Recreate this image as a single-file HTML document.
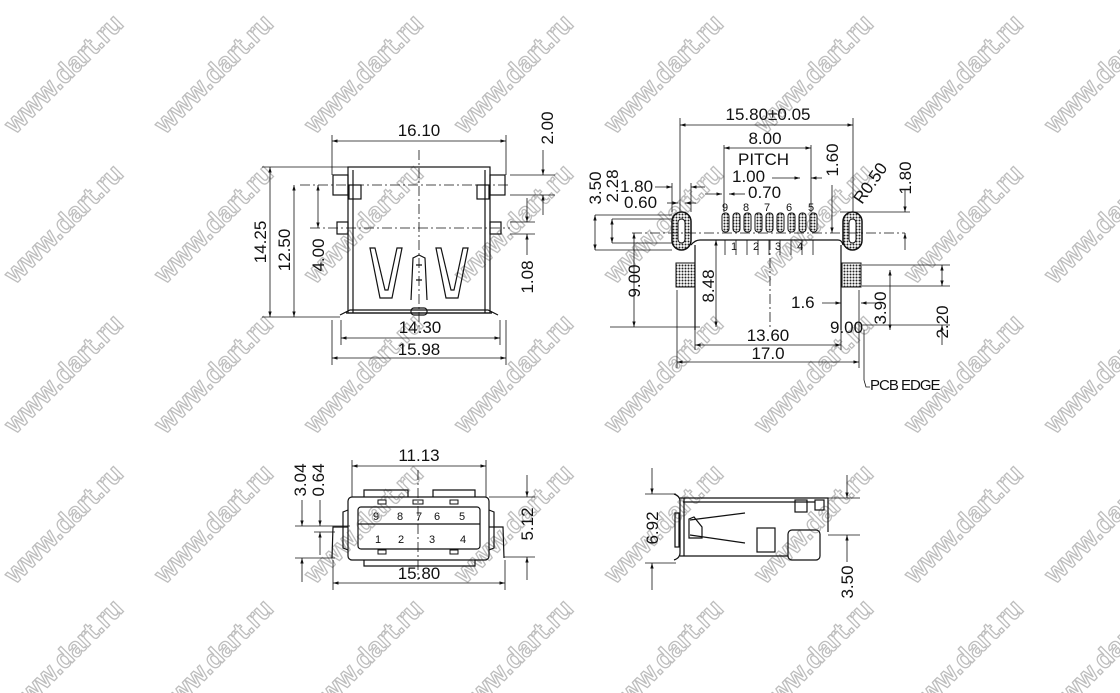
<!DOCTYPE html>
<html><head><meta charset="utf-8"><style>
html,body{margin:0;padding:0;background:#fff}
svg{display:block}
.wm{font:bold 27px "Liberation Sans",sans-serif;fill:#fff;stroke:#bdbdbd;stroke-width:1.3}
.t{font:17px "Liberation Sans",sans-serif;fill:#111}
.s{font:11px "Liberation Sans",sans-serif;fill:#111}
.l{stroke:#111;stroke-width:1.2;fill:none}
.th{stroke:#111;stroke-width:0.8;fill:none}
.d{stroke:#111;stroke-width:0.8;stroke-dasharray:10 3 2 3;fill:none}
</style></head><body>
<svg width="1120" height="693" viewBox="0 0 1120 693" xmlns="http://www.w3.org/2000/svg">
<defs>
<marker id="a" viewBox="0 0 10 10" refX="10" refY="5" markerWidth="7" markerHeight="7" orient="auto-start-reverse"><path d="M0,2 L10,5 L0,8z" fill="#111"/></marker>
<pattern id="h" width="3" height="3" patternUnits="userSpaceOnUse"><rect width="3" height="3" fill="#fff"/><circle cx="1.5" cy="1.5" r="1" fill="#222"/></pattern>
</defs>
<g>
<text class="wm" transform="translate(70,80) rotate(-45)" text-anchor="middle">www.dart.ru</text>
<text class="wm" transform="translate(220,80) rotate(-45)" text-anchor="middle">www.dart.ru</text>
<text class="wm" transform="translate(370,80) rotate(-45)" text-anchor="middle">www.dart.ru</text>
<text class="wm" transform="translate(520,80) rotate(-45)" text-anchor="middle">www.dart.ru</text>
<text class="wm" transform="translate(670,80) rotate(-45)" text-anchor="middle">www.dart.ru</text>
<text class="wm" transform="translate(820,80) rotate(-45)" text-anchor="middle">www.dart.ru</text>
<text class="wm" transform="translate(970,80) rotate(-45)" text-anchor="middle">www.dart.ru</text>
<text class="wm" transform="translate(1110,80) rotate(-45)" text-anchor="middle">www.dart.ru</text>
<text class="wm" transform="translate(70,230) rotate(-45)" text-anchor="middle">www.dart.ru</text>
<text class="wm" transform="translate(220,230) rotate(-45)" text-anchor="middle">www.dart.ru</text>
<text class="wm" transform="translate(370,230) rotate(-45)" text-anchor="middle">www.dart.ru</text>
<text class="wm" transform="translate(520,230) rotate(-45)" text-anchor="middle">www.dart.ru</text>
<text class="wm" transform="translate(670,230) rotate(-45)" text-anchor="middle">www.dart.ru</text>
<text class="wm" transform="translate(820,230) rotate(-45)" text-anchor="middle">www.dart.ru</text>
<text class="wm" transform="translate(970,230) rotate(-45)" text-anchor="middle">www.dart.ru</text>
<text class="wm" transform="translate(1110,230) rotate(-45)" text-anchor="middle">www.dart.ru</text>
<text class="wm" transform="translate(70,380) rotate(-45)" text-anchor="middle">www.dart.ru</text>
<text class="wm" transform="translate(220,380) rotate(-45)" text-anchor="middle">www.dart.ru</text>
<text class="wm" transform="translate(370,380) rotate(-45)" text-anchor="middle">www.dart.ru</text>
<text class="wm" transform="translate(520,380) rotate(-45)" text-anchor="middle">www.dart.ru</text>
<text class="wm" transform="translate(670,380) rotate(-45)" text-anchor="middle">www.dart.ru</text>
<text class="wm" transform="translate(820,380) rotate(-45)" text-anchor="middle">www.dart.ru</text>
<text class="wm" transform="translate(970,380) rotate(-45)" text-anchor="middle">www.dart.ru</text>
<text class="wm" transform="translate(1110,380) rotate(-45)" text-anchor="middle">www.dart.ru</text>
<text class="wm" transform="translate(70,530) rotate(-45)" text-anchor="middle">www.dart.ru</text>
<text class="wm" transform="translate(220,530) rotate(-45)" text-anchor="middle">www.dart.ru</text>
<text class="wm" transform="translate(370,530) rotate(-45)" text-anchor="middle">www.dart.ru</text>
<text class="wm" transform="translate(520,530) rotate(-45)" text-anchor="middle">www.dart.ru</text>
<text class="wm" transform="translate(670,530) rotate(-45)" text-anchor="middle">www.dart.ru</text>
<text class="wm" transform="translate(820,530) rotate(-45)" text-anchor="middle">www.dart.ru</text>
<text class="wm" transform="translate(970,530) rotate(-45)" text-anchor="middle">www.dart.ru</text>
<text class="wm" transform="translate(1110,530) rotate(-45)" text-anchor="middle">www.dart.ru</text>
<text class="wm" transform="translate(70,665) rotate(-45)" text-anchor="middle">www.dart.ru</text>
<text class="wm" transform="translate(220,665) rotate(-45)" text-anchor="middle">www.dart.ru</text>
<text class="wm" transform="translate(370,665) rotate(-45)" text-anchor="middle">www.dart.ru</text>
<text class="wm" transform="translate(520,665) rotate(-45)" text-anchor="middle">www.dart.ru</text>
<text class="wm" transform="translate(670,665) rotate(-45)" text-anchor="middle">www.dart.ru</text>
<text class="wm" transform="translate(820,665) rotate(-45)" text-anchor="middle">www.dart.ru</text>
<text class="wm" transform="translate(970,665) rotate(-45)" text-anchor="middle">www.dart.ru</text>
<text class="wm" transform="translate(1110,665) rotate(-45)" text-anchor="middle">www.dart.ru</text>
</g>

<!-- ===== Top-left front view ===== -->
<g>
<rect class="l" x="348" y="167" width="142" height="146"/>
<line class="l" x1="353" y1="170" x2="353" y2="313"/><line class="l" x1="485" y1="170" x2="485" y2="313"/>
<rect class="l" x="333" y="175" width="15" height="20"/><rect class="l" x="490" y="175" width="15" height="20"/>
<rect class="l" x="337" y="222" width="11" height="12"/><rect class="l" x="490" y="222" width="11" height="12"/>
<rect class="l" x="349" y="185" width="12" height="14"/><rect class="l" x="477" y="185" width="12" height="14"/>
<path class="l" d="M340,315 L350,310 L488,310 L498,315 M346,313 L492,313"/>
<rect class="l" x="411" y="308" width="16" height="7" rx="3"/>
<path class="l" d="M370,248 L380,298 L392,298 L402,248 L397,248 L388,290 L385,290 L375,248z"/>
<path class="l" d="M436,248 L446,298 L458,298 L468,248 L463,248 L454,290 L451,290 L441,248z"/>
<path class="l" d="M411,300 L413,258 L419,255 L425,258 L427,300 M416,265 L422,265 M416,280 L422,280"/>
<line class="d" x1="419" y1="150" x2="419" y2="330"/>
<line class="d" x1="300" y1="185" x2="510" y2="185"/>
<line class="d" x1="310" y1="228" x2="510" y2="228"/>
<line class="th" x1="332" y1="135" x2="332" y2="175"/><line class="th" x1="506" y1="135" x2="506" y2="175"/>
<line class="th" x1="332" y1="141" x2="506" y2="141" marker-start="url(#a)" marker-end="url(#a)"/>
<text class="t" x="419" y="136" text-anchor="middle">16.10</text>
<line class="th" x1="262" y1="167" x2="348" y2="167"/><line class="th" x1="262" y1="317" x2="340" y2="317"/>
<line class="th" x1="270" y1="167" x2="270" y2="317" marker-start="url(#a)" marker-end="url(#a)"/>
<line class="th" x1="294" y1="185" x2="294" y2="317" marker-start="url(#a)" marker-end="url(#a)"/>
<line class="th" x1="318" y1="185" x2="318" y2="228" marker-start="url(#a)" marker-end="url(#a)"/>
<text class="t" transform="translate(266,242) rotate(-90)" text-anchor="middle">14.25</text>
<text class="t" transform="translate(290,250) rotate(-90)" text-anchor="middle">12.50</text>
<text class="t" transform="translate(324,255) rotate(-90)" text-anchor="middle">4.00</text>
<line class="th" x1="341" y1="320" x2="341" y2="345"/><line class="th" x1="500" y1="320" x2="500" y2="345"/>
<line class="th" x1="341" y1="338" x2="500" y2="338" marker-start="url(#a)" marker-end="url(#a)"/>
<text class="t" x="420" y="333" text-anchor="middle">14.30</text>
<line class="th" x1="332" y1="320" x2="332" y2="365"/><line class="th" x1="506" y1="320" x2="506" y2="365"/>
<line class="th" x1="332" y1="358" x2="506" y2="358" marker-start="url(#a)" marker-end="url(#a)"/>
<text class="t" x="419" y="355" text-anchor="middle">15.98</text>
<line class="th" x1="510" y1="175" x2="555" y2="175"/><line class="th" x1="510" y1="195" x2="555" y2="195"/>
<line class="th" x1="543" y1="150" x2="543" y2="175" marker-end="url(#a)"/><line class="th" x1="543" y1="215" x2="543" y2="195" marker-end="url(#a)"/>
<text class="t" transform="translate(553,128) rotate(-90)" text-anchor="middle">2.00</text>
<line class="th" x1="510" y1="222" x2="535" y2="222"/><line class="th" x1="510" y1="234" x2="535" y2="234"/>
<line class="th" x1="527" y1="198" x2="527" y2="222" marker-end="url(#a)"/><line class="th" x1="527" y1="255" x2="527" y2="234" marker-end="url(#a)"/>
<text class="t" transform="translate(533,277) rotate(-90)" text-anchor="middle">1.08</text>
</g>

<!-- ===== Top-right footprint ===== -->
<g>
<rect x="672" y="212" width="19" height="38" rx="9.5" fill="url(#h)" stroke="#111" stroke-width="1.5"/>
<rect x="678" y="219" width="7" height="24" rx="3.5" fill="#fff" stroke="#111"/>
<rect x="843" y="212" width="19" height="38" rx="9.5" fill="url(#h)" stroke="#111" stroke-width="1.5"/>
<rect x="849" y="219" width="7" height="24" rx="3.5" fill="#fff" stroke="#111"/>
<rect x="676" y="263" width="19" height="24" fill="url(#h)" stroke="#111"/>
<rect x="842" y="263" width="19" height="24" fill="url(#h)" stroke="#111"/>
<g fill="url(#h)" stroke="#111">
<rect x="722" y="213" width="7" height="19" rx="3"/><rect x="733" y="213" width="7" height="19" rx="3"/><rect x="744" y="213" width="7" height="19" rx="3"/><rect x="755" y="213" width="7" height="19" rx="3"/><rect x="766" y="213" width="7" height="19" rx="3"/><rect x="777" y="213" width="7" height="19" rx="3"/><rect x="788" y="213" width="7" height="19" rx="3"/><rect x="799" y="213" width="7" height="19" rx="3"/><rect x="810" y="213" width="7" height="19" rx="3"/>
</g>
<text class="s" x="722" y="211">9</text><text class="s" x="743" y="211">8</text><text class="s" x="764" y="211">7</text><text class="s" x="786" y="211">6</text><text class="s" x="808" y="211">5</text>
<text class="s" x="731" y="250">1</text><text class="s" x="753" y="250">2</text><text class="s" x="775" y="250">3</text><text class="s" x="797" y="250">4</text>
<path class="l" d="M691,245 Q695,240 700,240 L838,240 Q842,240 843,245"/>
<line class="l" x1="695" y1="245" x2="695" y2="330"/><line class="l" x1="841" y1="245" x2="841" y2="330"/>
<g class="th"><line x1="725" y1="240" x2="725" y2="255"/><line x1="736" y1="240" x2="736" y2="255"/><line x1="747" y1="240" x2="747" y2="255"/><line x1="758" y1="240" x2="758" y2="255"/><line x1="769" y1="240" x2="769" y2="255"/><line x1="780" y1="240" x2="780" y2="255"/><line x1="791" y1="240" x2="791" y2="255"/><line x1="802" y1="240" x2="802" y2="255"/><line x1="813" y1="240" x2="813" y2="255"/></g>
<line class="d" x1="770" y1="240" x2="770" y2="330"/>
<line class="d" x1="632" y1="233" x2="905" y2="233"/>
<line class="th" x1="680" y1="118" x2="680" y2="212"/><line class="th" x1="853" y1="118" x2="853" y2="212"/>
<line class="th" x1="680" y1="125" x2="853" y2="125" marker-start="url(#a)" marker-end="url(#a)"/>
<text class="t" x="768" y="120" text-anchor="middle">15.80±0.05</text>
<line class="th" x1="724" y1="145" x2="724" y2="212"/><line class="th" x1="811" y1="145" x2="811" y2="212"/>
<line class="th" x1="724" y1="148" x2="811" y2="148" marker-start="url(#a)" marker-end="url(#a)"/>
<text class="t" x="765" y="144" text-anchor="middle">8.00</text>
<text class="t" x="738" y="165">PITCH</text>
<text class="t" x="732" y="182">1.00</text>
<line class="th" x1="772" y1="178" x2="800" y2="178" marker-end="url(#a)"/><line class="th" x1="822" y1="178" x2="811" y2="178" marker-end="url(#a)"/>
<text class="t" x="748" y="198">0.70</text>
<line class="th" x1="705" y1="194" x2="722" y2="194" marker-end="url(#a)"/><line class="th" x1="745" y1="194" x2="729" y2="194" marker-end="url(#a)"/>
<text class="t" x="620" y="192">1.80</text>
<line class="th" x1="655" y1="187" x2="672" y2="187" marker-end="url(#a)"/><line class="th" x1="705" y1="187" x2="691" y2="187" marker-end="url(#a)"/>
<line class="th" x1="672" y1="183" x2="672" y2="212"/><line class="th" x1="691" y1="183" x2="691" y2="212"/>
<text class="t" x="624" y="208">0.60</text>
<line class="th" x1="667" y1="203" x2="678" y2="203" marker-end="url(#a)"/><line class="th" x1="696" y1="203" x2="685" y2="203" marker-end="url(#a)"/>
<line class="th" x1="595" y1="215" x2="672" y2="215"/><line class="th" x1="595" y1="250" x2="672" y2="250"/>
<line class="th" x1="612" y1="219" x2="672" y2="219"/><line class="th" x1="612" y1="243" x2="672" y2="243"/>
<line class="th" x1="595" y1="215" x2="595" y2="250" marker-start="url(#a)" marker-end="url(#a)"/>
<line class="th" x1="612" y1="219" x2="612" y2="243" marker-start="url(#a)" marker-end="url(#a)"/>
<text class="t" transform="translate(601,188) rotate(-90)" text-anchor="middle">3.50</text>
<text class="t" transform="translate(618,186) rotate(-90)" text-anchor="middle">2.28</text>
<line class="th" x1="634" y1="233" x2="634" y2="327" marker-start="url(#a)" marker-end="url(#a)"/>
<line class="th" x1="610" y1="327" x2="700" y2="327"/>
<text class="t" transform="translate(640,281) rotate(-90)" text-anchor="middle">9.00</text>
<line class="th" x1="716" y1="240" x2="716" y2="327" marker-start="url(#a)" marker-end="url(#a)"/>
<text class="t" transform="translate(714,286) rotate(-90)" text-anchor="middle">8.48</text>
<line class="th" x1="695" y1="330" x2="695" y2="350"/><line class="th" x1="841" y1="330" x2="841" y2="350"/>
<line class="th" x1="695" y1="345" x2="841" y2="345" marker-start="url(#a)" marker-end="url(#a)"/>
<text class="t" x="768" y="341" text-anchor="middle">13.60</text>
<line class="th" x1="677" y1="290" x2="677" y2="368"/><line class="th" x1="859" y1="290" x2="859" y2="368"/>
<line class="th" x1="677" y1="362" x2="859" y2="362" marker-start="url(#a)" marker-end="url(#a)"/>
<text class="t" x="768" y="359" text-anchor="middle">17.0</text>
<text class="t" x="791" y="308">1.6</text>
<line class="th" x1="822" y1="303" x2="841" y2="303" marker-end="url(#a)"/><line class="th" x1="878" y1="303" x2="861" y2="303" marker-end="url(#a)"/>
<text class="t" x="830" y="333">9.00</text>
<line class="th" x1="864" y1="330" x2="864" y2="380"/><path class="th" d="M864,380 L866,387 L870,387"/>
<text x="870" y="390" style="font:15px 'Liberation Sans',sans-serif;letter-spacing:-1px" fill="#111">PCB EDGE</text>
<line class="th" x1="862" y1="265" x2="950" y2="265"/><line class="th" x1="862" y1="286" x2="950" y2="286"/>
<line class="th" x1="862" y1="325" x2="950" y2="325"/>
<line class="th" x1="890" y1="270" x2="890" y2="330" marker-start="url(#a)" marker-end="url(#a)"/>
<text class="t" transform="translate(886,308) rotate(-90)" text-anchor="middle">3.90</text>
<line class="th" x1="942" y1="265" x2="942" y2="286" marker-start="url(#a)" marker-end="url(#a)"/>
<line class="th" x1="942" y1="345" x2="942" y2="325" marker-end="url(#a)"/>
<text class="t" transform="translate(948,322) rotate(-90)" text-anchor="middle">2.20</text>
<line class="th" x1="840" y1="212" x2="910" y2="212"/>
<line class="th" x1="905" y1="190" x2="905" y2="212" marker-end="url(#a)"/><line class="th" x1="905" y1="250" x2="905" y2="233" marker-end="url(#a)"/>
<text class="t" transform="translate(911,178) rotate(-90)" text-anchor="middle">1.80</text>
<text class="t" transform="translate(862,205) rotate(-55)">R0.50</text>
<line class="th" x1="832" y1="185" x2="832" y2="233" marker-end="url(#a)"/>
<text class="t" transform="translate(838,160) rotate(-90)" text-anchor="middle">1.60</text>
</g>

<!-- ===== Bottom-left front view ===== -->
<g>
<rect class="l" x="348" y="497" width="141" height="63" rx="4"/>
<rect class="l" x="358" y="507" width="122" height="42" rx="3"/>
<line class="l" x1="358" y1="524" x2="480" y2="524"/>
<path class="l" d="M364,497 L364,490 L408,490 L408,497 M433,497 L433,490 L475,490 L475,497"/>
<path class="l" d="M364,560 L364,566 L475,566 L475,560"/>
<path class="l" d="M348,527 L333,527 L332,558 M489,527 L503,527 L504,558"/>
<path class="l" d="M348,510 L343,512 L343,548 L348,550 M489,510 L494,512 L494,548 L489,550"/>
<g fill="#fff" stroke="#111"><rect x="378" y="500" width="8" height="4"/><rect x="413" y="500" width="10" height="4"/><rect x="450" y="500" width="8" height="4"/><rect x="378" y="550" width="8" height="4"/><rect x="450" y="550" width="8" height="4"/></g>
<text class="s" x="373" y="520">9</text><text class="s" x="397" y="520">8</text><text class="s" x="416" y="520">7</text><text class="s" x="434" y="520">6</text><text class="s" x="459" y="520">5</text>
<text class="s" x="375" y="543">1</text><text class="s" x="398" y="543">2</text><text class="s" x="429" y="543">3</text><text class="s" x="460" y="543">4</text>
<line class="d" x1="418" y1="470" x2="418" y2="580"/>
<line class="th" x1="352" y1="460" x2="352" y2="497"/><line class="th" x1="486" y1="460" x2="486" y2="497"/>
<line class="th" x1="352" y1="466" x2="486" y2="466" marker-start="url(#a)" marker-end="url(#a)"/>
<text class="t" x="419" y="461" text-anchor="middle">11.13</text>
<line class="th" x1="333" y1="560" x2="333" y2="590"/><line class="th" x1="505" y1="560" x2="505" y2="590"/>
<line class="th" x1="333" y1="583" x2="505" y2="583" marker-start="url(#a)" marker-end="url(#a)"/>
<text class="t" x="419" y="579" text-anchor="middle">15.80</text>
<line class="th" x1="295" y1="526" x2="350" y2="526"/><line class="th" x1="295" y1="558" x2="335" y2="558"/>
<line class="th" x1="302" y1="500" x2="302" y2="526" marker-end="url(#a)"/><line class="th" x1="302" y1="582" x2="302" y2="558" marker-end="url(#a)"/>
<line class="th" x1="320" y1="500" x2="320" y2="526" marker-end="url(#a)"/><line class="th" x1="320" y1="555" x2="320" y2="532" marker-end="url(#a)"/>
<line class="th" x1="314" y1="532" x2="335" y2="532"/>
<text class="t" transform="translate(306,480) rotate(-90)" text-anchor="middle">3.04</text>
<text class="t" transform="translate(324,480) rotate(-90)" text-anchor="middle">0.64</text>
<line class="th" x1="489" y1="497" x2="535" y2="497"/><line class="th" x1="504" y1="557" x2="535" y2="557"/>
<line class="th" x1="527" y1="475" x2="527" y2="497" marker-end="url(#a)"/><line class="th" x1="527" y1="580" x2="527" y2="557" marker-end="url(#a)"/>
<text class="t" transform="translate(533,524) rotate(-90)" text-anchor="middle">5.12</text>
</g>

<!-- ===== Bottom-right side view ===== -->
<g>
<path class="l" d="M674,494 Q680,496 680,501 L680,553 Q680,558 674,560"/>
<path class="l" d="M680,498 L828,498 L828,532 M680,556 L788,556"/>
<line class="l" x1="683" y1="502" x2="815" y2="502"/>
<line class="l" x1="684" y1="498" x2="684" y2="556"/>
<rect class="l" x="675" y="513" width="4" height="34"/>
<path class="l" d="M690,520 L745,513 M690,535 L745,543 M689,519 L694,517 L702,527 L702,538 L689,538z"/>
<rect class="l" x="757" y="528" width="18" height="24"/>
<rect class="l" x="788" y="530" width="32" height="30" rx="4"/>
<rect class="l" x="795" y="500" width="12" height="12"/>
<rect class="l" x="815" y="500" width="9" height="10"/>
<line class="th" x1="645" y1="494" x2="676" y2="494"/><line class="th" x1="645" y1="563" x2="676" y2="563"/>
<line class="th" x1="652" y1="468" x2="652" y2="494" marker-end="url(#a)"/><line class="th" x1="652" y1="590" x2="652" y2="563" marker-end="url(#a)"/>
<text class="t" transform="translate(658,528) rotate(-90)" text-anchor="middle">6.92</text>
<line class="th" x1="828" y1="498" x2="860" y2="498"/><line class="th" x1="828" y1="535" x2="860" y2="535"/>
<line class="th" x1="847" y1="475" x2="847" y2="498" marker-end="url(#a)"/><line class="th" x1="847" y1="562" x2="847" y2="535" marker-end="url(#a)"/>
<text class="t" transform="translate(853,582) rotate(-90)" text-anchor="middle">3.50</text>
</g>
</svg>
</body></html>
